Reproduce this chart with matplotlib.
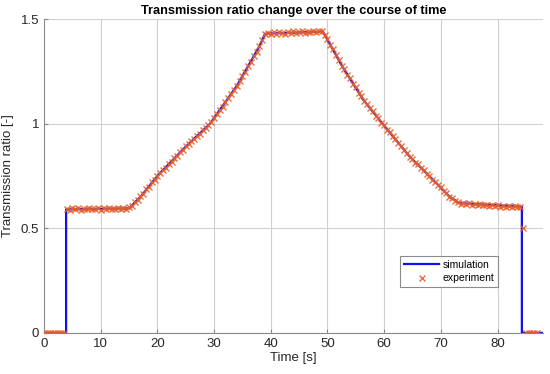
import numpy as np
import matplotlib
matplotlib.use("Agg")
import matplotlib.pyplot as plt

plt.rcParams["font.family"] = ["Liberation Sans", "DejaVu Sans"]

# simulation breakpoints (time [s], ratio [-])
sim_time = [0, 3.9, 3.9, 15, 17, 20, 25, 29.3, 34, 38, 39, 49.2, 52.7, 56.3,
            60.1, 64.5, 69.2, 71.5, 73.3, 84.3, 84.3, 88]
sim_ratio = [0, 0, 0.59, 0.595, 0.65, 0.75, 0.89, 1.0, 1.18, 1.37, 1.43, 1.44,
             1.27, 1.115, 0.987, 0.843, 0.716, 0.652, 0.62, 0.603, 0, 0]

# experiment, logged every 0.5 s
exp_time = np.arange(0, 87.5, 0.5)
exp_ratio = [
    0, 0, 0, 0, 0, 0, 0, 0,
    0.592, 0.588, 0.595, 0.590, 0.597, 0.589, 0.594, 0.591, 0.598, 0.590, 0.593, 0.596,
    0.589, 0.595, 0.592, 0.597, 0.590, 0.594, 0.598, 0.591, 0.596, 0.593, 0.600,
    0.607, 0.625, 0.634, 0.652, 0.665, 0.686, 0.698, 0.719, 0.731, 0.752,
    0.762, 0.780, 0.790, 0.808, 0.818, 0.836, 0.846, 0.864, 0.874, 0.892,
    0.901, 0.918, 0.926, 0.943, 0.952, 0.969, 0.978, 0.994,
    1.006, 1.029, 1.044, 1.067, 1.082, 1.105, 1.121, 1.144, 1.159, 1.182,
    1.202, 1.230, 1.249, 1.277, 1.297, 1.325, 1.344, 1.372, 1.398, 1.428,
    1.434, 1.428, 1.437, 1.431, 1.439, 1.433, 1.430, 1.438, 1.435, 1.441,
    1.432, 1.437, 1.443, 1.434, 1.440, 1.436, 1.444, 1.438, 1.441, 1.445,
    1.423, 1.403, 1.375, 1.355, 1.326, 1.306, 1.278,
    1.259, 1.234, 1.216, 1.191, 1.173, 1.147, 1.130,
    1.106, 1.093, 1.073, 1.060, 1.039, 1.026, 1.005, 0.992,
    0.972, 0.960, 0.939, 0.927, 0.907, 0.894, 0.874, 0.861, 0.841,
    0.832, 0.814, 0.805, 0.787, 0.778, 0.760, 0.751, 0.733, 0.723,
    0.706, 0.696, 0.678, 0.668, 0.650,
    0.645, 0.632, 0.627,
    0.618, 0.622, 0.615, 0.619, 0.613, 0.617, 0.611, 0.615, 0.609, 0.613, 0.608,
    0.611, 0.606, 0.610, 0.604, 0.608, 0.602, 0.606, 0.601, 0.605, 0.600, 0.603,
    0.5,
    0, 0, 0, 0, 0,
]

xticks = [0, 10, 20, 30, 40, 50, 60, 70, 80]
yticks = [0, 0.5, 1, 1.5]
ytick_labels = ["0", "0.5", "1", "1.5"]

fig = plt.figure(figsize=(5.5, 3.74), dpi=100)
ax = fig.add_axes([0.08, 0.11, 0.907, 0.839])

ax.plot(sim_time, sim_ratio, color="#1010F0", lw=1.6, label="simulation", zorder=2)
ax.plot(exp_time, exp_ratio, ls="none", marker="x", ms=4.5, mew=1.0,
        color="#E8602A", alpha=0.9, label="experiment", zorder=3)

ax.set_xlim(0, 88)
ax.set_ylim(0, 1.5)
ax.set_xticks(xticks)
ax.set_yticks(yticks)
ax.set_yticklabels(ytick_labels)
ax.grid(True, color="#d0d0d0", lw=0.8)
ax.set_axisbelow(True)
for s in ["top", "right"]:
    ax.spines[s].set_visible(False)
for s in ["left", "bottom"]:
    ax.spines[s].set_color("#8a8a8a")
ax.tick_params(direction="in", length=3, color="#8a8a8a", labelsize=9.5,
               labelcolor="#262626")

ax.set_xlabel("Time [s]", fontsize=9.5, color="#262626", labelpad=2)
ax.set_ylabel("Transmission ratio [-]", fontsize=9.5, color="#262626", labelpad=5)
ax.set_title("Transmission ratio change over the course of time",
             fontsize=9.2, fontweight="bold", pad=4)

leg = ax.legend(loc="lower right", bbox_to_anchor=(0.91, 0.146), fontsize=7.5,
                fancybox=False, edgecolor="#8a8a8a", framealpha=1,
                handlelength=3.4, borderpad=0.35, labelspacing=0.35,
                handletextpad=0.3, borderaxespad=0)
leg.get_frame().set_linewidth(0.8)

fig.savefig("out.png", dpi=100)
